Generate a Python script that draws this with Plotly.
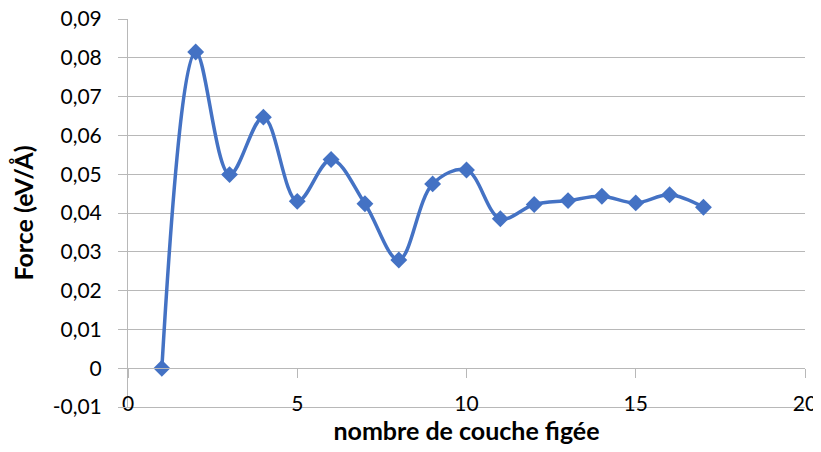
import plotly.graph_objects as go

# frozen layers vs force
layers = list(range(1, 18))
force = [0.0, 0.0815, 0.0499, 0.0647, 0.0430, 0.0538, 0.0424, 0.0279, 0.0475,
         0.0511, 0.0385, 0.0422, 0.0432, 0.0443, 0.0426, 0.0447, 0.0415]

y_ticks = [-0.01, 0, 0.01, 0.02, 0.03, 0.04, 0.05, 0.06, 0.07, 0.08, 0.09]
y_labels = ["-0,01", "0", "0,01", "0,02", "0,03", "0,04", "0,05", "0,06", "0,07", "0,08", "0,09"]
x_ticks = [0, 5, 10, 15, 20]

y_range = [-0.01, 0.09]
grey = "#B8B8B8"
blue = "#4472C4"

fig = go.Figure()

fig.add_trace(go.Scatter(
    x=layers, y=force,
    mode="lines+markers",
    line=dict(color=blue, width=3.5, shape="spline", smoothing=1.0),
    marker=dict(symbol="diamond", size=13, color=blue),
    showlegend=False
))

# x axis line crossing at y = 0 (Excel style)
zero_pos = (0 - y_range[0]) / (y_range[1] - y_range[0])

# page body adds an 8px margin, so the figure is sized a bit smaller
fig.update_layout(
    width=813, height=444,
    margin=dict(l=120, r=16, t=11, b=45),
    plot_bgcolor="white", paper_bgcolor="white",
    font=dict(family="Lato, Calibri, sans-serif", size=21, color="#000000"),
    xaxis=dict(
        range=[0, 20], tickvals=x_ticks, showgrid=False, zeroline=False,
        showline=True, linecolor=grey, linewidth=1, ticks="",
        ticklabelstandoff=-22, automargin=False, ticklabeloverflow="allow",
        title=dict(text="<b>nombre de couche figée</b>", font=dict(size=25), standoff=0),
    ),
    xaxis2=dict(
        range=[0, 20], tickvals=x_ticks, overlaying="x", anchor="free", position=zero_pos,
        showgrid=False, zeroline=False, showline=True, linecolor=grey, linewidth=1,
        ticks="outside", ticklen=9, tickcolor=grey, showticklabels=False,
        automargin=False,
    ),
    yaxis=dict(
        range=y_range, tickvals=y_ticks, ticktext=y_labels,
        showgrid=True, gridcolor=grey, gridwidth=1, zeroline=False,
        showline=True, linecolor=grey, linewidth=1,
        ticks="outside", ticklen=9, tickcolor=grey,
        ticklabelstandoff=12, automargin=False, ticklabeloverflow="allow",
        title=dict(text="<b>Force (eV/Å)</b>", font=dict(size=25), standoff=23),
    ),
)

# dummy trace to activate xaxis2
fig.add_trace(go.Scatter(x=[], y=[], xaxis="x2", showlegend=False))

fig.write_html("out.html")
